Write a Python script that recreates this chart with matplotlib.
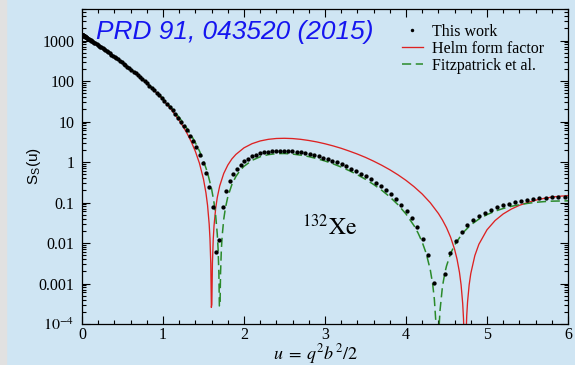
import numpy as np
import matplotlib
matplotlib.use('Agg')
import matplotlib.pyplot as plt
from matplotlib.patches import Rectangle
from matplotlib.ticker import FixedLocator, FixedFormatter, LogLocator, MultipleLocator, NullFormatter

plt.rcParams['font.family'] = 'Liberation Serif'
plt.rcParams['mathtext.fontset'] = 'stix'

# "This work": points on a uniform momentum grid, q*b in steps of 0.023
qb_work = np.arange(151) * 0.02302
u_work = qb_work**2 / 2
s_work = [1390, 1380, 1380, 1380, 1370, 1360, 1350, 1330, 1320, 1300,
          1280, 1260, 1240, 1220, 1190, 1160, 1140, 1110, 1080, 1050,
          1010, 980, 947, 913, 879, 845, 810, 776, 741, 707,
          673, 639, 606, 573, 541, 510, 479, 450, 421, 393,
          366, 340, 315, 291, 268, 246, 225, 206, 188, 170,
          154, 139, 124, 111, 99, 87.8, 77.4, 68, 59.3, 51.5,
          44.4, 38.1, 32.4, 27.3, 22.8, 18.9, 15.5, 12.5, 9.98, 7.82,
          6, 4.5, 3.27, 2.29, 1.52, 0.942, 0.524, 0.243, 0.077, 0.00599,
          0.0116, 0.0775, 0.189, 0.334, 0.5, 0.678, 0.86, 1.04, 1.21, 1.37,
          1.51, 1.63, 1.73, 1.81, 1.87, 1.91, 1.92, 1.92, 1.9, 1.86,
          1.81, 1.74, 1.67, 1.58, 1.49, 1.39, 1.29, 1.19, 1.08, 0.98,
          0.879, 0.782, 0.69, 0.602, 0.52, 0.443, 0.373, 0.31, 0.253, 0.202,
          0.158, 0.12, 0.0882, 0.0619, 0.0408, 0.0246, 0.0129, 0.0052, 0.00105, 2.85e-05,
          0.0017, 0.00564, 0.0114, 0.0188, 0.0272, 0.0364, 0.0462, 0.0562, 0.0662, 0.076,
          0.0854, 0.0943, 0.103, 0.11, 0.117, 0.123, 0.127, 0.131, 0.135, 0.137,
          0.138]

# Helm form factor
u_helm = [0, 0.1, 0.2, 0.3, 0.4, 0.5, 0.6, 0.7, 0.8, 0.9,
          1.0, 1.1, 1.2, 1.25, 1.3, 1.35, 1.4, 1.45, 1.5, 1.53,
          1.55, 1.57, 1.58, 1.59, 1.597, 1.603, 1.61, 1.62, 1.63, 1.65,
          1.67, 1.7, 1.75, 1.8, 1.85, 1.9, 2.0, 2.1, 2.2, 2.3,
          2.4, 2.5, 2.6, 2.7, 2.8, 2.9, 3.0, 3.1, 3.2, 3.3,
          3.4, 3.5, 3.6, 3.7, 3.8, 3.9, 4.0, 4.1, 4.2, 4.3,
          4.4, 4.45, 4.5, 4.55, 4.6, 4.63, 4.66, 4.68, 4.7, 4.71,
          4.72, 4.725, 4.733, 4.74, 4.75, 4.76, 4.78, 4.8, 4.85, 4.9,
          5.0, 5.1, 5.2, 5.3, 5.4, 5.5, 5.6, 5.7, 5.8, 5.9,
          6.0]
s_helm = [1390, 1030, 760, 553, 397, 281, 195, 133, 87.9, 56.3,
          34.5, 20, 10.6, 7.41, 4.96, 3.13, 1.82, 0.933, 0.376, 0.174,
          0.0852, 0.0294, 0.0128, 0.00308, 0.000256, 0.000304, 0.00313, 0.0121, 0.0266, 0.0709,
          0.133, 0.256, 0.522, 0.839, 1.19, 1.54, 2.24, 2.84, 3.31, 3.63,
          3.81, 3.85, 3.79, 3.63, 3.4, 3.13, 2.82, 2.5, 2.18, 1.86,
          1.57, 1.3, 1.05, 0.832, 0.644, 0.484, 0.352, 0.245, 0.162, 0.0986,
          0.0536, 0.037, 0.0239, 0.014, 0.00696, 0.00399, 0.00189, 0.000933, 0.00032, 0.000135,
          2.96e-05, 5.58e-06, 6.4e-06, 4.6e-05, 0.000164, 0.000352, 0.000933, 0.00177, 0.0049, 0.00932,
          0.0212, 0.0359, 0.0522, 0.0688, 0.0851, 0.1, 0.114, 0.126, 0.136, 0.143,
          0.148]

# Fitzpatrick et al.
u_fitz = [0, 0.1, 0.2, 0.3, 0.4, 0.5, 0.6, 0.7, 0.8, 0.9,
          1.0, 1.1, 1.2, 1.25, 1.3, 1.35, 1.4, 1.45, 1.5, 1.55,
          1.6, 1.63, 1.65, 1.67, 1.68, 1.69, 1.696, 1.704, 1.71, 1.72,
          1.73, 1.75, 1.77, 1.8, 1.85, 1.9, 1.95, 2.0, 2.1, 2.2,
          2.3, 2.4, 2.5, 2.6, 2.7, 2.8, 2.9, 3.0, 3.1, 3.2,
          3.3, 3.4, 3.5, 3.6, 3.7, 3.8, 3.9, 4.0, 4.1, 4.15,
          4.2, 4.25, 4.3, 4.33, 4.35, 4.37, 4.38, 4.385, 4.395, 4.4,
          4.41, 4.42, 4.45, 4.48, 4.5, 4.55, 4.6, 4.7, 4.8, 4.9,
          5.0, 5.1, 5.2, 5.3, 5.4, 5.5, 5.6, 5.7, 5.8, 5.9,
          6.0]
s_fitz = [1390, 1040, 764, 558, 402, 285, 199, 136, 90.9, 59.1,
          37.1, 22.3, 12.6, 9.21, 6.56, 4.52, 2.99, 1.87, 1.07, 0.541,
          0.216, 0.0989, 0.0483, 0.0166, 0.00723, 0.00177, 0.000279, 0.000274, 0.00169, 0.00661,
          0.0146, 0.0387, 0.0724, 0.138, 0.277, 0.44, 0.612, 0.784, 1.1, 1.35,
          1.52, 1.61, 1.62, 1.57, 1.48, 1.36, 1.21, 1.06, 0.901, 0.751,
          0.611, 0.485, 0.374, 0.279, 0.201, 0.138, 0.0886, 0.0521, 0.0266, 0.0175,
          0.0105, 0.00548, 0.00217, 0.000939, 0.00041, 0.000101, 2.49e-05, 6.2e-06, 6.15e-06, 2.45e-05,
          9.7e-05, 0.000216, 0.000842, 0.00184, 0.0027, 0.00545, 0.00895, 0.0177, 0.028, 0.039,
          0.0502, 0.0611, 0.0712, 0.0804, 0.0884, 0.0952, 0.101, 0.105, 0.108, 0.109,
          0.11]

y_ticks = [1e-4, 1e-3, 1e-2, 1e-1, 1, 10, 100, 1000]
y_ticklabels = ['$10^{-4}$', '0.001', '0.01', '0.1', '1', '10', '100', '1000']

fig = plt.figure(figsize=(5.75, 3.65), dpi=100)
fig.patch.set_facecolor('#cfe5f3')
# grey strip along the left edge
fig.add_artist(Rectangle((0, 0), 6 / 575, 1, transform=fig.transFigure, color='#e1e1e1', zorder=-5))
ax = fig.add_axes([82 / 575, 41 / 365, 486 / 575, 315 / 365])
ax.set_facecolor('none')

ax.plot(u_work, s_work, 'o', color='black', markersize=3.1, markeredgewidth=0, label='This work', zorder=3)
ax.plot(u_helm, s_helm, '-', color='#dd2222', lw=0.95, label='Helm form factor')
ax.plot(u_fitz, s_fitz, '--', color='#2a8a2a', lw=1.1, dashes=(6, 3), label='Fitzpatrick et al.')

ax.set_yscale('log')
ax.set_xlim(0, 6)
ax.set_ylim(1e-4, 6000)

ax.xaxis.set_major_locator(MultipleLocator(1))
ax.xaxis.set_minor_locator(MultipleLocator(0.2))
ax.yaxis.set_major_locator(FixedLocator(y_ticks))
ax.yaxis.set_major_formatter(FixedFormatter(y_ticklabels))
ax.yaxis.set_minor_locator(LogLocator(base=10, subs=np.arange(2, 10), numticks=20))
ax.yaxis.set_minor_formatter(NullFormatter())
ax.tick_params(which='both', direction='in', top=True, right=True, labelsize=11.5, width=0.8)
ax.tick_params(which='major', length=6)
ax.tick_params(which='minor', length=3)
ax.tick_params(axis='y', pad=5.5)
ax.tick_params(axis='x', pad=2.5)
for s in ax.spines.values():
    s.set_linewidth(0.9)

ax.set_xlabel(r'$u\;=\;q^2b^2/2$', fontsize=13)
ax.xaxis.set_label_coords(0.48, -0.058)
ax.set_ylabel(r'S$_\mathregular{S}$(u)', fontsize=11, family='Liberation Sans')
ax.yaxis.set_label_coords(-0.08, 0.5)

ax.text(2.72, 10**-1.8, r'$^{132}\mathrm{Xe}$', fontsize=17)
fig.text(96 / 575, 1 - 39 / 365, 'PRD 91, 043520 (2015)', color='#1515f0', fontsize=18.9,
         family='Liberation Sans', style='italic')

ax.legend(loc='upper left', bbox_to_anchor=(402 / 575, 1 - 24 / 365), bbox_transform=fig.transFigure,
          frameon=False, fontsize=11.5, numpoints=1, handlelength=1.3, handletextpad=0.6,
          labelspacing=0.05, borderpad=0, borderaxespad=0, markerscale=0.8)

fig.savefig('out.png', dpi=100, facecolor=fig.get_facecolor())
